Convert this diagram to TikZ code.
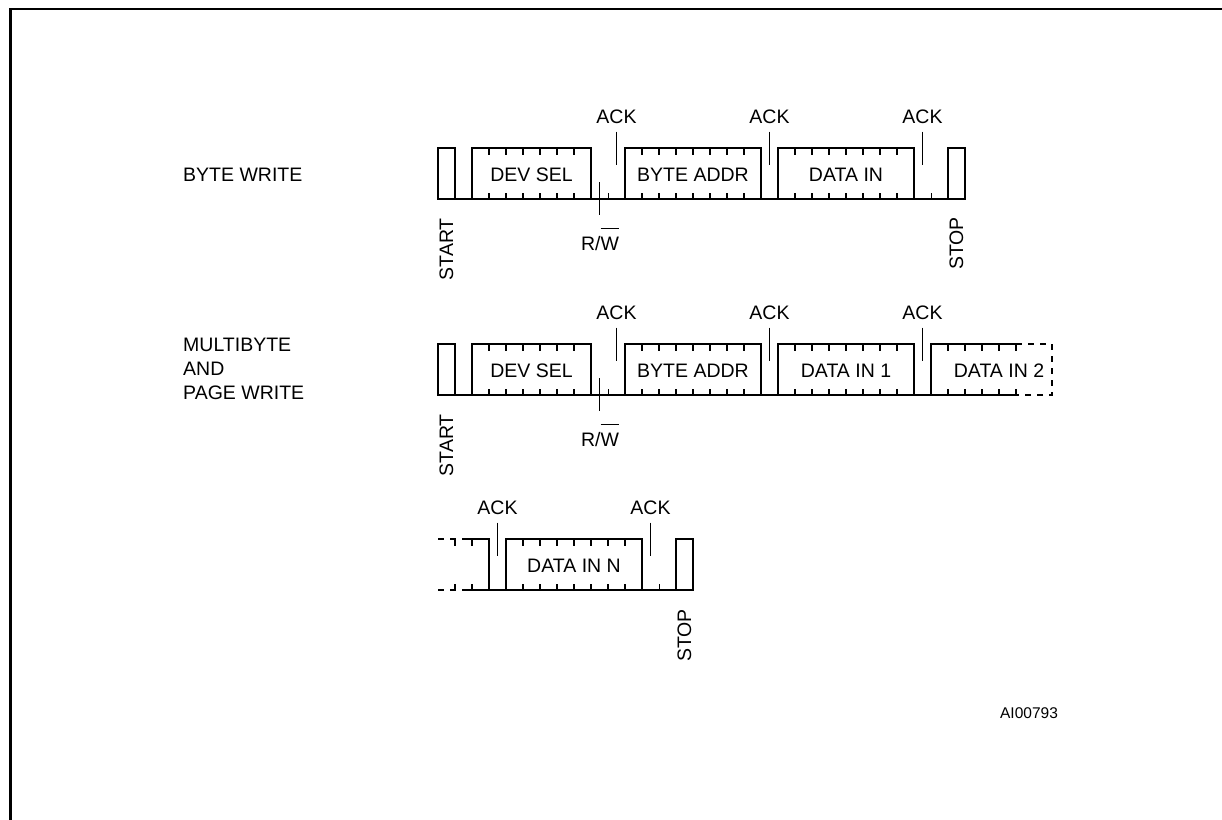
\documentclass[tikz,border=0pt]{standalone}
\usepackage{fontspec}
\setmainfont{Liberation Sans}

\tikzset{
  sig/.style={line width=2.2pt},
  tickmark/.style={line width=1.9pt},
  ackmark/.style={line width=1.3pt},
  cut/.style={line width=2.2pt,dash pattern=on 6pt off 6pt},
  lbl/.style={inner sep=0pt,font=\fontsize{19.5}{24}\selectfont},
  vlbl/.style={lbl,rotate=90,anchor=east},
}

% overlined letter (R/W)
\newsavebox\ovlbox
\newcommand{\ovl}[1]{\sbox\ovlbox{#1}\rlap{\rule[\dimexpr\ht\ovlbox+7.5pt\relax]{\wd\ovlbox}{1.4pt}}\usebox\ovlbox}

% byte field: left x, baseline y, bits, name, text
\newcommand{\sigfield}[5]{%
  \draw[sig] (#1,#2) rectangle ++(17*#3,-51);
  \pgfmathtruncatemacro\lastbit{#3-1}
  \foreach \k in {1,...,\lastbit}{
    \draw[tickmark] (#1+17*\k,#2-51) -- ++(0,6.5);
    \draw[tickmark] (#1+17*\k,#2) -- ++(0,-6.5);
  }
  \node[lbl] (#4) at (#1+8.5*#3,#2-24) {#5};
}

% acknowledge marker: x, top y, name
\newcommand{\ackat}[3]{%
  \draw[ackmark] (#1,#2-16.5) -- (#1,#2+16.5);
  \node[lbl] (#3) at (#1,#2-31) {ACK};
}

\begin{document}
\begin{tikzpicture}[x=1pt,y=-1pt]
\useasboundingbox (0,0) rectangle (1222,819);

%% Frame
\draw[line width=2.7pt] (10.7,830) -- (10.7,9) -- (1230,9);

%%% BYTE WRITE
\node[lbl,anchor=west] (bytewrite) at (183,174.5) {BYTE WRITE};
\draw[sig] (438,199) -- (965,199);
\draw[sig] (438,199) rectangle (455,148);
\sigfield{472}{199}{7}{devsel1}{DEV SEL}
\sigfield{625}{199}{8}{byteaddr1}{BYTE ADDR}
\sigfield{778}{199}{8}{datain1}{DATA IN}
\draw[sig] (948,199) rectangle (965,148);
\draw[tickmark] (608.5,199) -- ++(0,-6.5);
\draw[tickmark] (931.5,199) -- ++(0,-6.5);
\ackat{616.5}{148}{ack1a}
\ackat{769.5}{148}{ack1b}
\ackat{922.5}{148}{ack1c}
% R/W bit
\draw[ackmark] (599.5,182) -- (599.5,215);
\node[lbl,anchor=base] (rw1) at (600,250) {R/\ovl{W}};
\node[vlbl] (start1) at (446.5,218) {START};
\node[vlbl] (stop1) at (956.5,217) {STOP};

%%% MULTIBYTE AND PAGE WRITE
\node[lbl,anchor=north west,align=left] (pagewrite) at (183,338.3) {MULTIBYTE\\AND\\PAGE WRITE};
\draw[sig] (438,395) -- (931,395);
\draw[sig] (438,395) rectangle (455,344);
\sigfield{472}{395}{7}{devsel2}{DEV SEL}
\sigfield{625}{395}{8}{byteaddr2}{BYTE ADDR}
\sigfield{778}{395}{8}{datain2a}{DATA IN 1}
% DATA IN 2, cut off
\draw[sig] (1016,344) -- (931,344) -- (931,395) -- (1016,395);
\foreach \k in {1,...,5}{
  \draw[tickmark] (931+17*\k,344) -- ++(0,6.5);
  \draw[tickmark] (931+17*\k,395) -- ++(0,-6.5);
}
\draw[cut] (1016,344) -- (1052,344) -- (1052,395) -- (1016,395);
\node[lbl] (datain2b) at (999,371) {DATA IN 2};
\draw[tickmark] (608.5,395) -- ++(0,-6.5);
\ackat{616.5}{344}{ack2a}
\ackat{769.5}{344}{ack2b}
\ackat{922.5}{344}{ack2c}
\draw[ackmark] (599.5,378) -- (599.5,411);
\node[lbl,anchor=base] (rw2) at (600,446) {R/\ovl{W}};
\node[vlbl] (start2) at (446.5,414) {START};

%%% last byte
\draw[cut] (438,539) -- (463,539);
\draw[cut] (438,590) -- (463,590);
\draw[sig] (463,539) -- (489,539) -- (489,590) -- (463,590);
\foreach \x in {455,472}{
  \draw[tickmark] (\x,539) -- ++(0,6.5);
  \draw[tickmark] (\x,590) -- ++(0,-6.5);
}
\draw[sig] (489,590) -- (693,590);
\sigfield{506}{590}{8}{datainN}{DATA IN N}
\draw[sig] (676,590) rectangle (693,539);
\draw[tickmark] (659.5,590) -- ++(0,-6.5);
\ackat{497.5}{539}{ack3a}
\ackat{650.5}{539}{ack3b}
\node[vlbl] (stop3) at (684.5,609) {STOP};

% figure code
\node[inner sep=0pt,font=\fontsize{15.5}{18}\selectfont] (figid) at (1029,713) {AI00793};
\end{tikzpicture}
\end{document}
